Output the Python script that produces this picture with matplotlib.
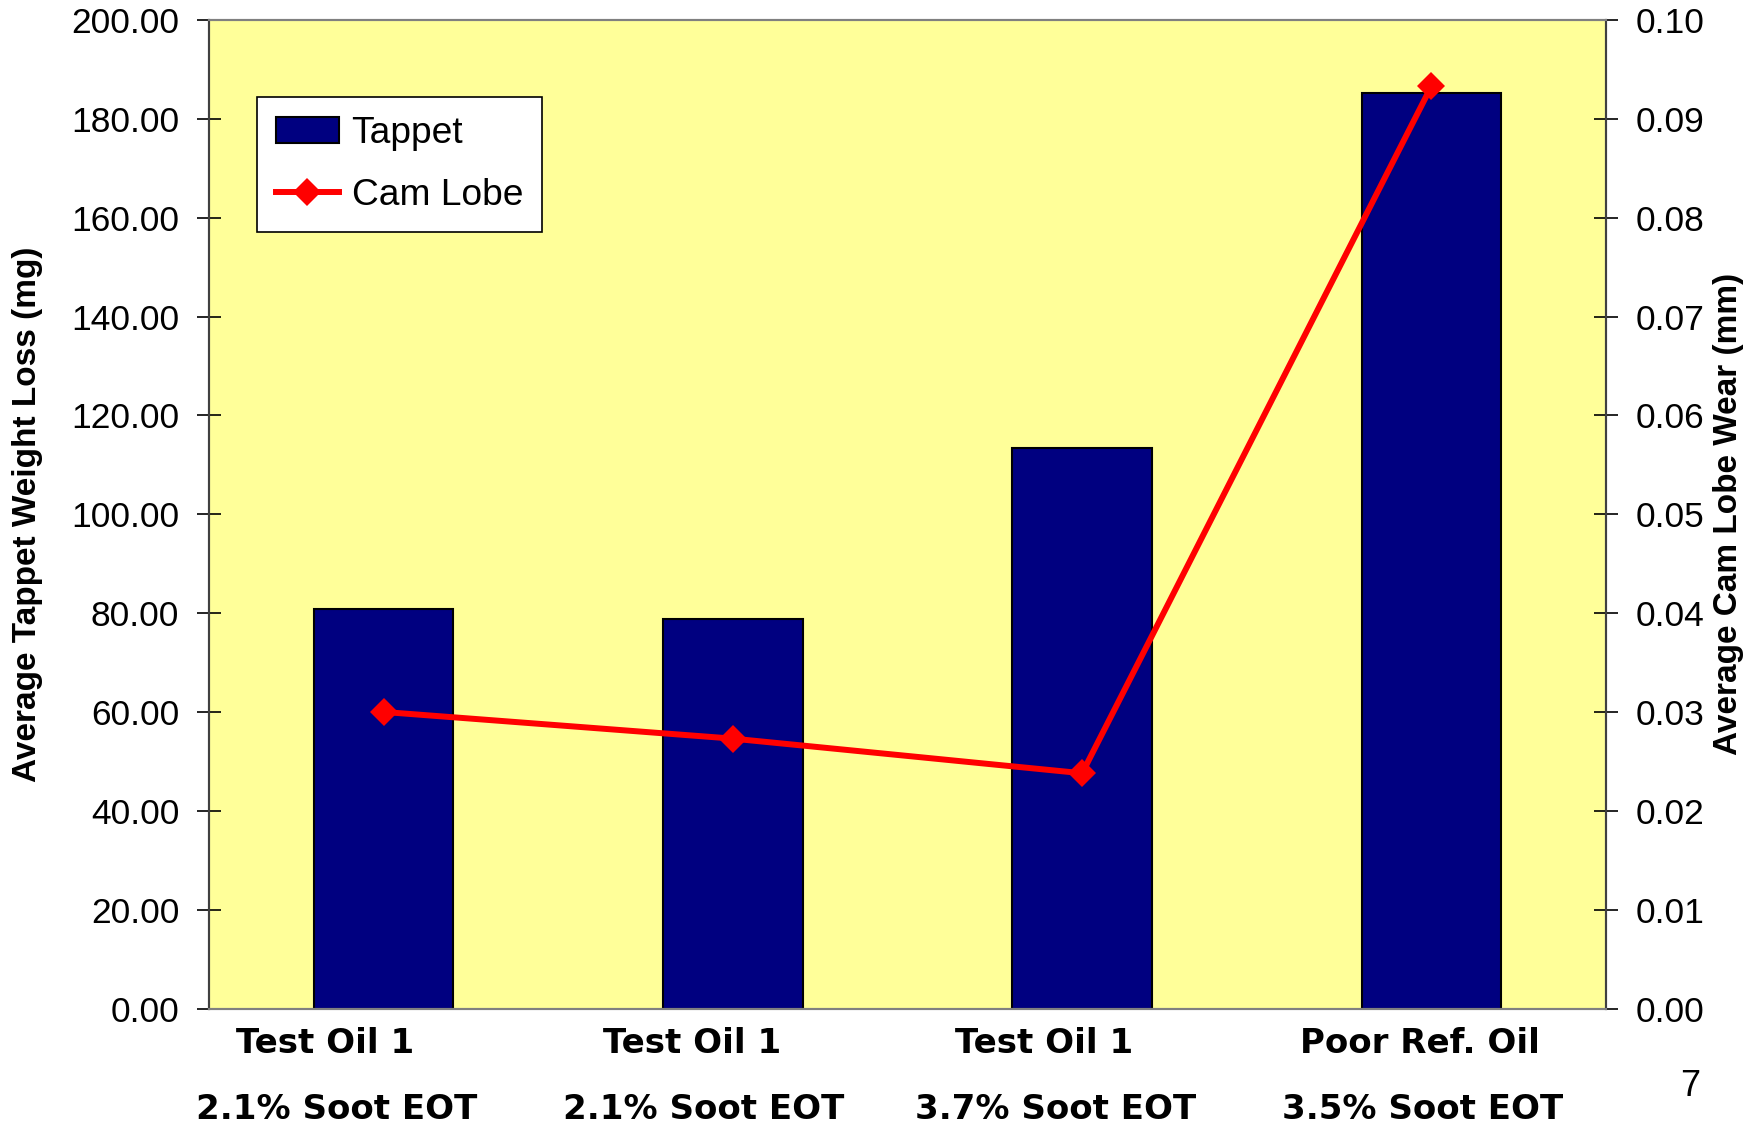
import matplotlib
matplotlib.use("Agg")
import matplotlib.pyplot as plt
from matplotlib import font_manager
from matplotlib.lines import Line2D
from matplotlib.patches import Patch

categories = ["Test Oil 1\n2.1% Soot EOT", "Test Oil 1\n2.1% Soot EOT",
              "Test Oil 1\n3.7% Soot EOT", "Poor Ref. Oil\n3.5% Soot EOT"]
tappet_mg = [80.9, 78.9, 113.4, 185.2]
cam_lobe_mm = [0.0300, 0.0273, 0.0238, 0.0933]
left_ticks = [0, 20, 40, 60, 80, 100, 120, 140, 160, 180, 200]
right_ticks = [0.00, 0.01, 0.02, 0.03, 0.04, 0.05, 0.06, 0.07, 0.08, 0.09, 0.10]

# horizontal offsets of category label lines (layout, in category units)
line1_offsets = [-0.167, -0.116, -0.109, -0.032]
line2_offsets = [-0.135, -0.084, -0.077, -0.026]

names = {f.name for f in font_manager.fontManager.ttflist}
base = "Liberation Sans" if "Liberation Sans" in names else "DejaVu Sans"
plt.rcParams['font.family'] = [base, 'DejaVu Sans']

fig = plt.figure(figsize=(17.61, 11.25), dpi=100)
ax = fig.add_axes([209/1761, 1-1008.5/1125, (1606-209)/1761, (1008.5-20)/1125])
ax.set_facecolor("#FFFF99")

x = list(range(len(categories)))
ax.bar(x, tappet_mg, width=0.40, color="#000080", edgecolor="black", linewidth=1.5, zorder=2)
ax.set_xlim(-0.5, 3.5)
ax.set_ylim(0, 200)
ax.set_yticks(left_ticks)
ax.set_yticklabels([f"{v:.2f}" for v in left_ticks])
ax.set_xticks(x)
ax.set_xticklabels([])
ax.tick_params(axis='x', length=0)
ax.tick_params(axis='y', direction='inout', length=17, width=1.2, labelsize=25.5, pad=13)

ax2 = ax.twinx()
ax2.plot(x, cam_lobe_mm, color="red", linewidth=4.3, marker='D', markersize=14.5,
         markeredgewidth=0, zorder=3)
ax2.set_ylim(0, 0.10)
ax2.set_yticks(right_ticks)
ax2.set_yticklabels([f"{v:.2f}" for v in right_ticks])
ax2.tick_params(axis='y', direction='inout', length=17, width=1.2, labelsize=25.5, pad=13)

for a in (ax, ax2):
    a.spines['top'].set_color("#808080")
    a.spines['bottom'].set_color("#808080")
    a.spines['left'].set_color("#404040")
    a.spines['right'].set_color("#404040")
    for s in a.spines.values():
        s.set_linewidth(1.5)

ax.set_ylabel("Average Tappet Weight Loss (mg)", fontsize=24, fontweight='bold')
ax.yaxis.set_label_coords(-0.119, 0.5)
ax2.set_ylabel("Average Cam Lobe Wear (mm)", fontsize=24, fontweight='bold', rotation=90)
ax2.yaxis.set_label_coords(1.0766, 0.5)

for i, lab in enumerate(categories):
    l1, l2 = lab.split("\n")
    ax.text(i + line1_offsets[i], -0.035, l1, transform=ax.get_xaxis_transform(),
            ha='center', va='center', family=['DejaVu Sans'], fontweight='bold', fontsize=24.5)
    ax.text(i + line2_offsets[i], -0.102, l2, transform=ax.get_xaxis_transform(),
            ha='center', va='center', family=['DejaVu Sans'], fontweight='bold', fontsize=24.5)

handles = [Patch(facecolor="#000080", edgecolor="black", linewidth=1.5, label="Tappet"),
           Line2D([0], [0], color="red", linewidth=4.3, marker='D', markersize=14.5,
                  markeredgewidth=0, label="Cam Lobe")]
leg = ax.legend(handles=handles, loc='upper left', bbox_to_anchor=(257/1761, 1-97/1125),
                bbox_transform=fig.transFigure, fontsize=26.7, frameon=True, fancybox=False,
                edgecolor="black", framealpha=1, borderpad=0.5, labelspacing=0.75,
                handlelength=1.7, handletextpad=0.35, borderaxespad=0)
leg.get_frame().set_linewidth(1.2)
leg.set_zorder(10)

fig.text(1690/1761, 1-1087/1125, "7", fontsize=26, ha='center', va='center')

fig.savefig("out.png", dpi=100)
